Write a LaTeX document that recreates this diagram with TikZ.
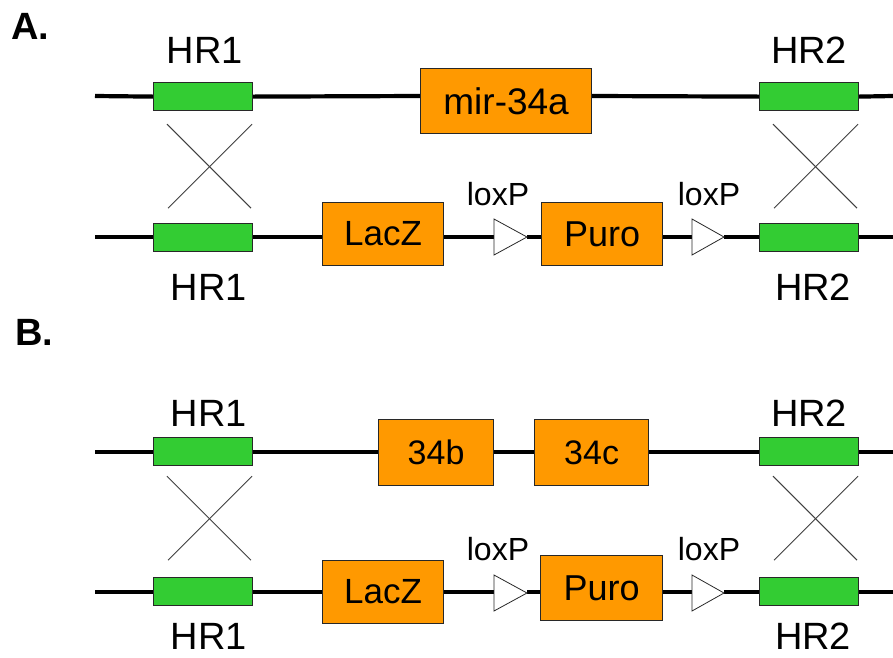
\documentclass[tikz,border=0pt]{standalone}
\usepackage{fontspec}
\setmainfont{Liberation Sans}
\usetikzlibrary{calc,backgrounds}
\definecolor{hrgreen}{RGB}{51,204,51}
\definecolor{genorange}{RGB}{255,153,0}
\definecolor{edge}{RGB}{40,40,40}
\newcommand{\fs}[1]{\fontsize{#1}{#1}\selectfont}
\begin{document}
\begin{tikzpicture}[x=1pt,y=-1pt,
  dna/.style={line width=4.2pt,black},
  hrbox/.style={draw=edge,line width=1.2pt,fill=hrgreen,minimum width=99pt,minimum height=28pt,inner sep=0pt,anchor=north west},
  genbox/.style={draw=edge,line width=1.2pt,fill=genorange,inner sep=0pt,anchor=north west,font=\fs{36}},
  loxtri/.style={draw=edge,line width=0.8pt,fill=white},
  crossline/.style={draw=black!75,line width=1pt},
  lab/.style={anchor=base,inner sep=0pt,font=\fs{38}},
  loxlab/.style={anchor=base,inner sep=0pt,font=\fs{32}},
  panel/.style={anchor=base west,inner sep=0pt,font=\fs{38}\bfseries}]
\useasboundingbox (0,0) rectangle (893,657);

% ================= Panel A =================
\node[panel] (pA) at (11,39) {A.};
% top row
\coordinate (aTl) at (95,96);
\coordinate (aTr) at (893,96);
\node[hrbox] (aT1) at (153,82) {};
\node[genbox,minimum width=171pt,minimum height=65pt,font=\fs{37}] (mir) at (420,68) {mir-34a};
\node[hrbox] (aT2) at (759,82) {};
\node[lab] (aT1l) at (205,63) {HR1};
\node[lab] (aT2l) at (809,63) {HR2};
% crosses
\draw[crossline] ($(aT1.south west)+(14,13)$) -- ($(aT1.south west)+(98,97)$);
\draw[crossline] ($(aT1.south west)+(99,13)$) -- ($(aT1.south west)+(15,97)$);
\draw[crossline] ($(aT2.south west)+(14,13)$) -- ($(aT2.south west)+(98,97)$);
\draw[crossline] ($(aT2.south west)+(99,13)$) -- ($(aT2.south west)+(15,97)$);
% bottom row
\coordinate (aBl) at (95,237);
\coordinate (aBr) at (893,237);
\node[hrbox] (aB1) at (153,223) {};
\node[genbox,minimum width=121pt,minimum height=63pt,font=\fs{35}] (lacA) at (322,202) {LacZ};
\node[genbox,minimum width=121pt,minimum height=63pt] (puroA) at (541,202) {Puro};
\node[hrbox] (aB2) at (759,223) {};
\coordinate (aL1w) at (494,237); \coordinate (aL1e) at (527,237);
\coordinate (aL2w) at (692,237); \coordinate (aL2e) at (724,237);
\draw[loxtri] ($(aL1w)+(0,-18)$) -- (aL1e) -- ($(aL1w)+(0,18)$) -- cycle;
\draw[loxtri] ($(aL2w)+(0,-18)$) -- (aL2e) -- ($(aL2w)+(0,18)$) -- cycle;
\node[loxlab] (aL1l) at (498,205) {loxP};
\node[loxlab] (aL2l) at (709,205) {loxP};
\node[lab] (aB1l) at (209,300) {HR1};
\node[lab] (aB2l) at (813,300) {HR2};

% ================= Panel B =================
\node[panel] (pB) at (15,345) {B.};
% top row
\coordinate (bTl) at (95,452);
\coordinate (bTr) at (893,452);
\node[hrbox] (bT1) at (153,437) {};
\node[genbox,minimum width=115pt,minimum height=66pt,font=\fs{34}] (b34) at (378,419) {34b};
\node[genbox,minimum width=114pt,minimum height=66pt,font=\fs{34}] (c34) at (534,419) {34c};
\node[hrbox] (bT2) at (759,437) {};
\node[lab] (bT1l) at (209,426) {HR1};
\node[lab] (bT2l) at (809,426) {HR2};
% crosses
\draw[crossline] ($(bT1.south west)+(14,10)$) -- ($(bT1.south west)+(98,94)$);
\draw[crossline] ($(bT1.south west)+(99,10)$) -- ($(bT1.south west)+(15,94)$);
\draw[crossline] ($(bT2.south west)+(14,10)$) -- ($(bT2.south west)+(98,94)$);
\draw[crossline] ($(bT2.south west)+(99,10)$) -- ($(bT2.south west)+(15,94)$);
% bottom row
\coordinate (bBl) at (95,592);
\coordinate (bBr) at (893,592);
\node[hrbox] (bB1) at (153,577) {};
\node[genbox,minimum width=121pt,minimum height=63pt,font=\fs{35}] (lacB) at (322,560) {LacZ};
\node[genbox,minimum width=122pt,minimum height=65pt] (puroB) at (540,555) {Puro};
\node[hrbox] (bB2) at (759,577) {};
\coordinate (bL1w) at (494,593); \coordinate (bL1e) at (527,593);
\coordinate (bL2w) at (692,593); \coordinate (bL2e) at (724,593);
\draw[loxtri] ($(bL1w)+(0,-18)$) -- (bL1e) -- ($(bL1w)+(0,18)$) -- cycle;
\draw[loxtri] ($(bL2w)+(0,-18)$) -- (bL2e) -- ($(bL2w)+(0,18)$) -- cycle;
\node[loxlab] (bL1l) at (498,560) {loxP};
\node[loxlab] (bL2l) at (709,560) {loxP};
\node[lab] (bB1l) at (209,649) {HR1};
\node[lab] (bB2l) at (813,649) {HR2};

% ================= DNA lines (behind) =================
\begin{scope}[on background layer]
\fill[white] (0,0) rectangle (893,657);
% A top
\draw[dna] (aTl) -- (aT1.west);
\draw[dna] (aT1.east) -- (mir.west |- aTl);
\draw[dna] (mir.east |- aTl) -- (aT2.west);
\draw[dna] (aT2.east) -- (aTr);
% A bottom
\draw[dna] (aBl) -- (aB1.west |- aBl);
\draw[dna] (aB1.east |- aBl) -- (lacA.west |- aBl);
\draw[dna] (lacA.east |- aBl) -- (aL1w);
\draw[dna] (aL1e) -- (puroA.west |- aBl);
\draw[dna] (puroA.east |- aBl) -- (aL2w);
\draw[dna] (aL2e) -- (aB2.west |- aBl);
\draw[dna] (aB2.east |- aBl) -- (aBr);
% B top
\draw[dna] (bTl) -- (bT1.west |- bTl);
\draw[dna] (bT1.east |- bTl) -- (b34.west |- bTl);
\draw[dna] (b34.east |- bTl) -- (c34.west |- bTl);
\draw[dna] (c34.east |- bTl) -- (bT2.west |- bTl);
\draw[dna] (bT2.east |- bTl) -- (bTr);
% B bottom
\draw[dna] (bBl) -- (bB1.west |- bBl);
\draw[dna] (bB1.east |- bBl) -- (lacB.west |- bBl);
\draw[dna] (lacB.east |- bBl) -- (bL1w |- bBl);
\draw[dna] (bL1e |- bBl) -- (puroB.west |- bBl);
\draw[dna] (puroB.east |- bBl) -- (bL2w |- bBl);
\draw[dna] (bL2e |- bBl) -- (bB2.west |- bBl);
\draw[dna] (bB2.east |- bBl) -- (bBr);
\end{scope}
\end{tikzpicture}
\end{document}
